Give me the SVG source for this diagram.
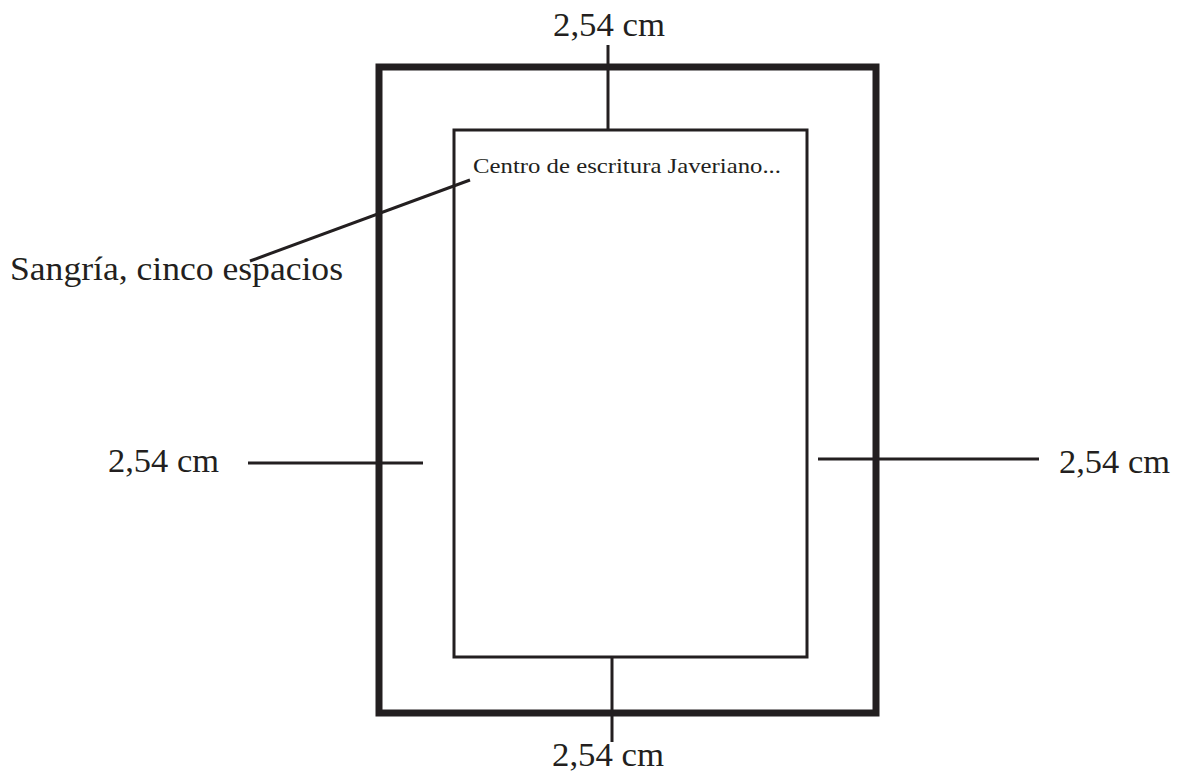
<svg xmlns="http://www.w3.org/2000/svg" width="1179" height="772" viewBox="0 0 1179 772">
<style>
.lbl{font-family:"Liberation Serif","DejaVu Serif",serif;fill:#231f20}
.big{font-size:33px}
.ln{stroke:#231f20;stroke-width:3;fill:none}
</style>
<rect width="1179" height="772" fill="#fff"/>
<g id="page-outer"><rect x="379" y="67" width="497" height="646" fill="none" stroke="#231f20" stroke-width="7"/></g>
<g id="page-inner"><rect x="454" y="130" width="353" height="527" fill="none" stroke="#231f20" stroke-width="3"/>
<text class="lbl" x="473" y="173" font-size="21.5" textLength="308" lengthAdjust="spacingAndGlyphs">Centro de escritura Javeriano...</text></g>
<g id="connectors">
<line class="ln" x1="608" y1="45" x2="608" y2="130"/>
<line class="ln" x1="612" y1="657" x2="612" y2="742"/>
<line class="ln" x1="248" y1="463" x2="423" y2="463"/>
<line class="ln" x1="818" y1="459" x2="1039" y2="459"/>
<line class="ln" x1="250" y1="261" x2="470" y2="180"/>
</g>
<g id="label-top"><text class="lbl big" x="553" y="36" textLength="112" lengthAdjust="spacingAndGlyphs">2,54 cm</text></g>
<g id="label-bottom"><text class="lbl big" x="552" y="766" textLength="112" lengthAdjust="spacingAndGlyphs">2,54 cm</text></g>
<g id="label-left"><text class="lbl big" x="108" y="472" textLength="111" lengthAdjust="spacingAndGlyphs">2,54 cm</text></g>
<g id="label-right"><text class="lbl big" x="1059" y="473" textLength="111" lengthAdjust="spacingAndGlyphs">2,54 cm</text></g>
<g id="label-sangria"><text class="lbl big" x="10" y="280" textLength="333" lengthAdjust="spacingAndGlyphs">Sangría, cinco espacios</text></g>
</svg>
